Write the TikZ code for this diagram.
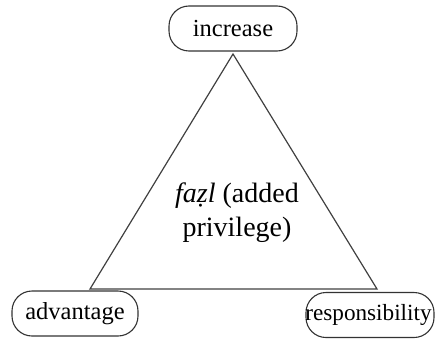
\documentclass[tikz,border=0pt]{standalone}
\usepackage{fontspec}
\setmainfont{Liberation Serif}
\begin{document}
\begin{tikzpicture}[x=1pt,y=1pt,
  pill/.style={draw=black!80, line width=1.1pt, fill=white, rounded corners=20pt,
    minimum height=45pt, inner sep=0pt},
  lbl/.style={font=\fontsize{24.5}{28}\selectfont, inner sep=0pt},
  edge/.style={draw=black!75, line width=1.2pt}]
\useasboundingbox (0,0) rectangle (435,338);
\coordinate (A) at (233,284);
\coordinate (B) at (90,49);
\coordinate (C) at (377,49);
\draw[edge] (A) -- (B) -- (C) -- cycle;
\node[pill, minimum width=128pt] (inc) at (233,309.5) {};
\node[lbl] at (inc.center) {increase};
\node[pill, minimum width=126pt] (adv) at (75,24.5) {};
\node[lbl] at (adv.center) {advantage};
\node[pill, minimum width=128pt] (res) at (370,23) {};
\node[lbl, font=\fontsize{23.2}{27}\selectfont] at ([xshift=-1.5pt]res.center) {responsibility};
\node[font=\fontsize{28}{34}\selectfont, align=center, inner sep=0pt] (mid) at (237,125)
  {\textit{fa\d{z}l} (added\\privilege)};
\end{tikzpicture}
\end{document}
